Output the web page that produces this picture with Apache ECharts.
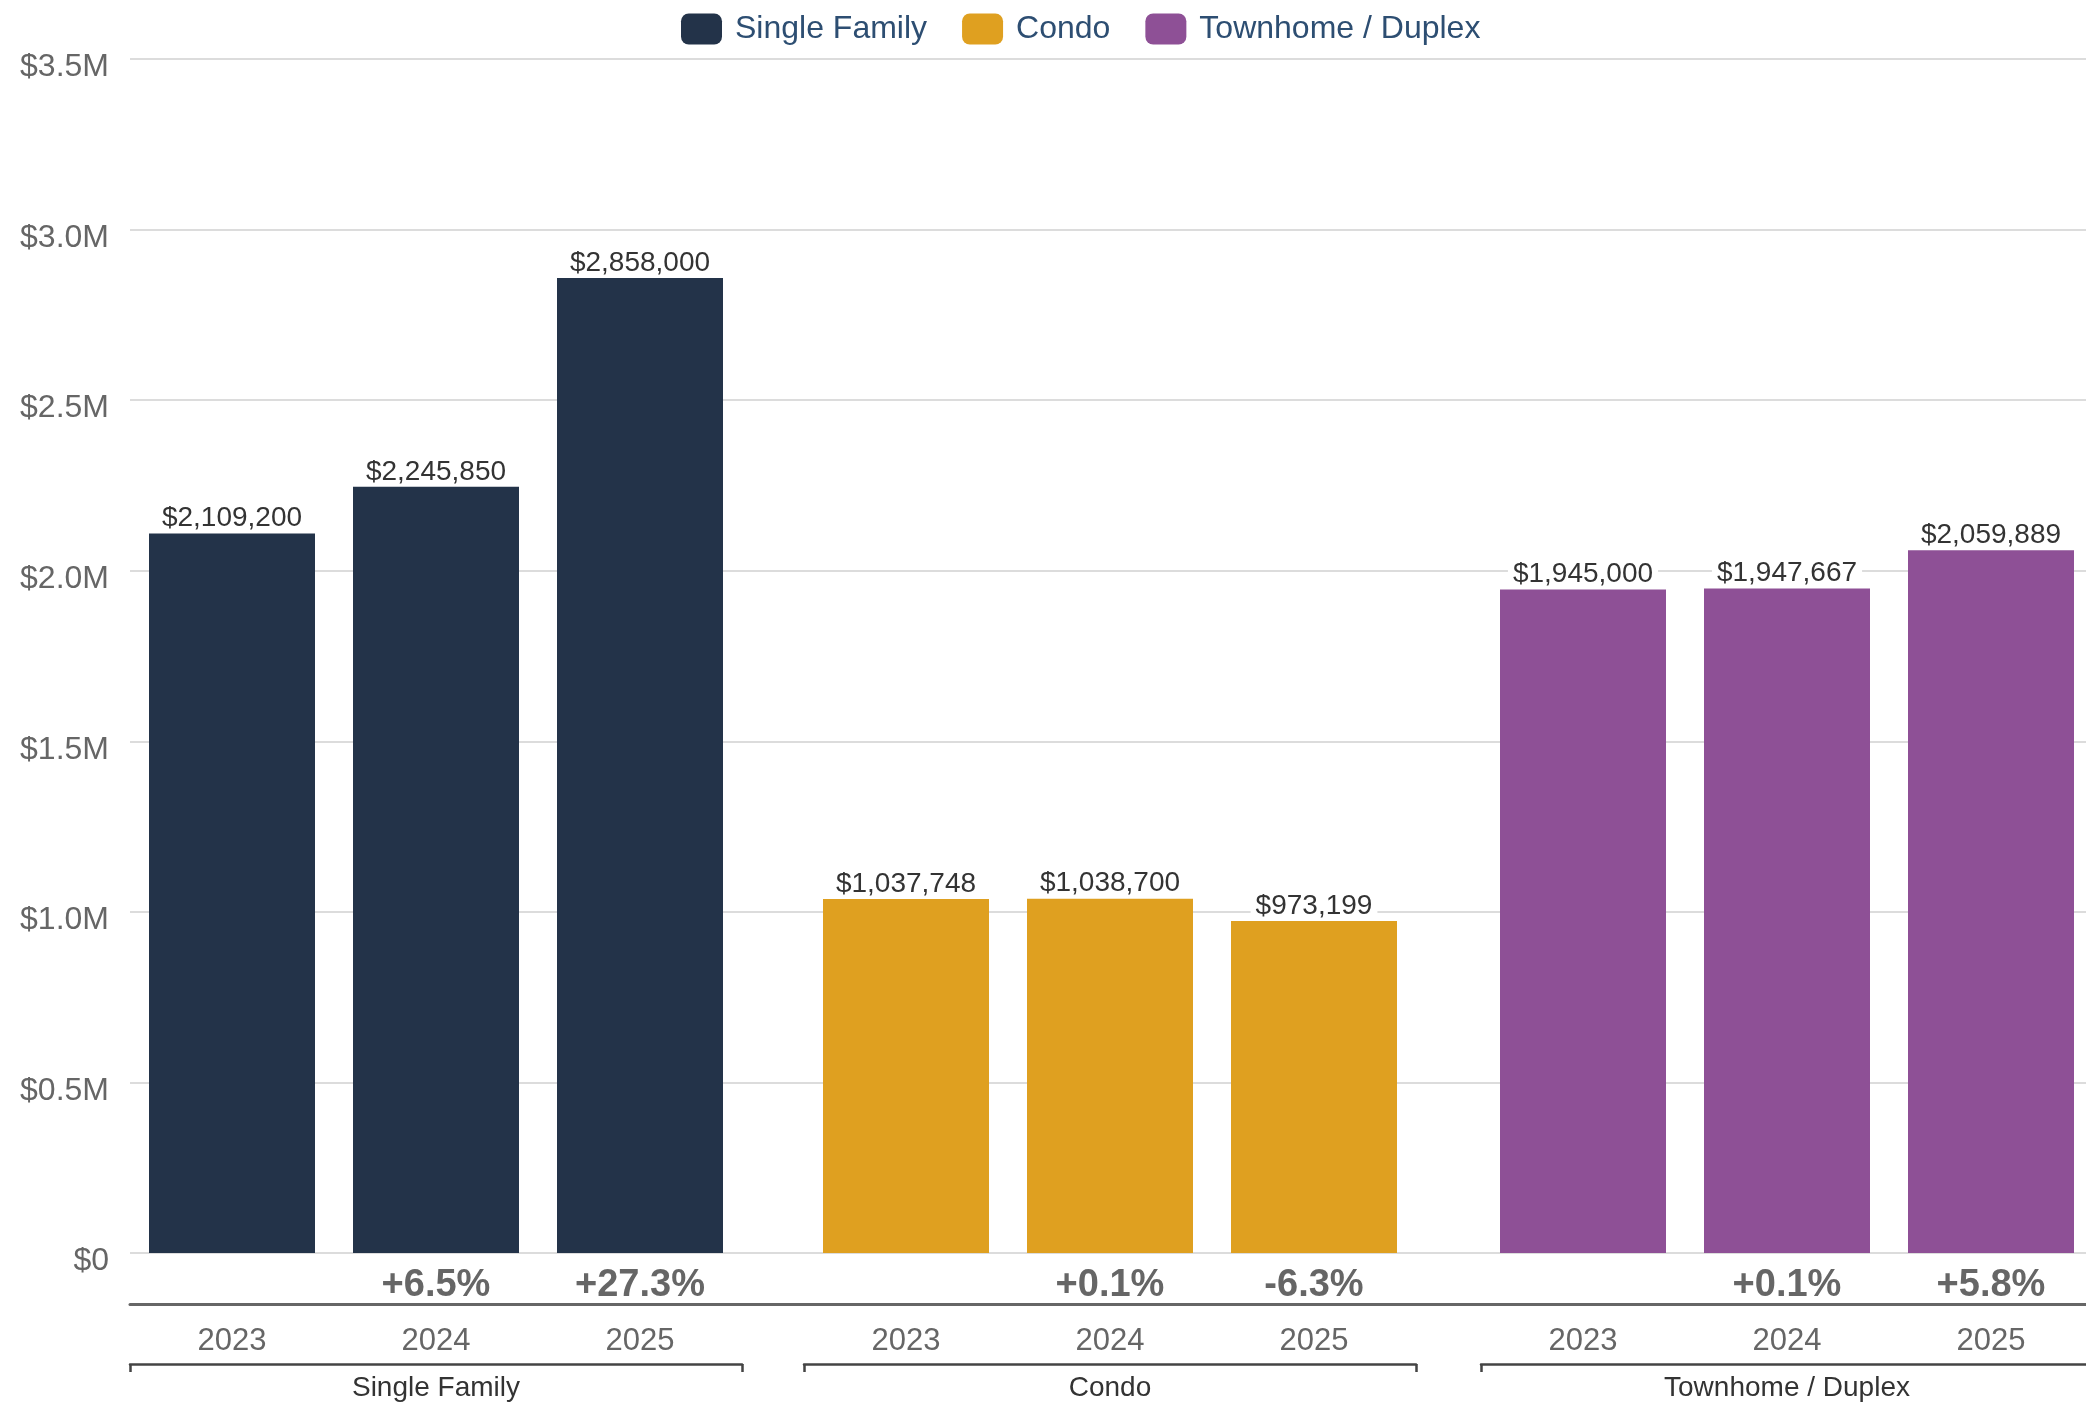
<!DOCTYPE html>
<html>
<head>
<meta charset="utf-8">
<title>Median Sale Price by Property Type</title>
<script src="https://cdn.jsdelivr.net/npm/echarts@6/dist/echarts.min.js"></script>
<style>
  html, body { margin: 0; padding: 0; background: #fff; }
  #chart { width: 2086px; height: 1405px; }
</style>
</head>
<body>
<div id="chart"></div>
<script>
// data
var years = ['2023', '2024', '2025'];
var groups = ['Single Family', 'Condo', 'Townhome / Duplex'];
var sfValues = [2109200, 2245850, 2858000];
var condoValues = [1037748, 1038700, 973199];
var townValues = [1945000, 1947667, 2059889];
var sfChange = ['', '+6.5%', '+27.3%'];
var condoChange = ['', '+0.1%', '-6.3%'];
var townChange = ['', '+0.1%', '+5.8%'];
var yTicks = ['$0', '$0.5M', '$1.0M', '$1.5M', '$2.0M', '$2.5M', '$3.0M', '$3.5M'];

var colors = ['#233349', '#dfa020', '#8e5096'];
var groupValues = [sfValues, condoValues, townValues];
var groupChange = [sfChange, condoChange, townChange];
var font = '"Liberation Sans", Arial, sans-serif';

var chart = echarts.init(document.getElementById('chart'));

var Y_MAX = 3500000;
var grids = [];
var xAxes = [];
var yAxes = [];
var series = [];

// background grid: horizontal lines, y labels, dark divider line
grids.push({ left: 130, right: 0, top: 59, bottom: 152, outerBoundsMode: 'none' });
xAxes.push({
  gridIndex: 0, type: 'category', data: [''], position: 'bottom', offset: 51,
  axisLine: { show: true, onZero: false, lineStyle: { color: '#666', width: 3 } },
  axisTick: { show: false }, axisLabel: { show: false }, splitLine: { show: false }
});
yAxes.push({
  gridIndex: 0, type: 'value', min: 0, max: Y_MAX, interval: 500000,
  axisLine: { show: false }, axisTick: { show: false },
  splitLine: { lineStyle: { color: '#dcdcdc', width: 2 } },
  axisLabel: {
    color: '#666', fontSize: 32, fontFamily: font, margin: 21,
    verticalAlign: 'top', lineHeight: 17,
    formatter: function (v) { return yTicks[Math.round(v / 500000)]; }
  }
});

// one grid per property type, last one runs past the right edge
var lefts = [130, 804, 1481];
for (var i = 0; i < 3; i++) {
  var g = i + 1;
  grids.push({ left: lefts[i], width: 612, top: 59, bottom: 152, outerBoundsMode: 'none' });
  // years
  xAxes.push({
    gridIndex: g, type: 'category', data: years, position: 'bottom', offset: 51,
    axisLine: { show: false, onZero: false }, axisTick: { show: false },
    axisLabel: { color: '#666', fontSize: 31, fontFamily: font, margin: 22 }
  });
  // change vs previous year
  xAxes.push({
    gridIndex: g, type: 'category', data: groupChange[i], position: 'bottom', offset: 0,
    axisLine: { show: false, onZero: false }, axisTick: { show: false },
    axisLabel: { color: '#666', fontSize: 38, fontWeight: 'bold', fontFamily: font, margin: 14, interval: 0 }
  });
  // group bracket
  xAxes.push({
    gridIndex: g, type: 'category', data: [groups[i]], position: 'bottom', offset: 111,
    axisLine: { show: true, onZero: false, lineStyle: { color: '#444', width: 2.5 } },
    axisTick: { show: true, interval: 0, length: 8, lineStyle: { color: '#444', width: 2.5 } },
    axisLabel: { color: '#333', fontSize: 28, fontFamily: font, margin: 10 }
  });
  yAxes.push({ gridIndex: g, type: 'value', min: 0, max: Y_MAX, show: false, splitLine: { show: false } });

  series.push({
    name: groups[i],
    type: 'bar',
    xAxisIndex: 1 + i * 3,
    yAxisIndex: g,
    data: groupValues[i],
    barWidth: 166,
    itemStyle: { color: colors[i] },
    label: {
      show: true, position: 'top', distance: 1,
      color: '#333', fontSize: 28, fontFamily: font,
      backgroundColor: '#fff', padding: [1, 5, 0, 5],
      formatter: function (p) { return '$' + p.value.toLocaleString('en-US'); }
    }
  });
}

var option = {
  animation: false,
  color: colors,
  legend: {
    top: 8, left: 676,
    icon: 'roundRect', itemWidth: 41, itemHeight: 31, itemGap: 35,
    textStyle: { color: '#2d4e72', fontSize: 32, fontFamily: font, padding: [0, 0, 0, 8] },
    data: groups
  },
  grid: grids,
  xAxis: xAxes,
  yAxis: yAxes,
  series: series
};

chart.setOption(option);
window.addEventListener('resize', function () { chart.resize(); });
</script>
</body>
</html>
